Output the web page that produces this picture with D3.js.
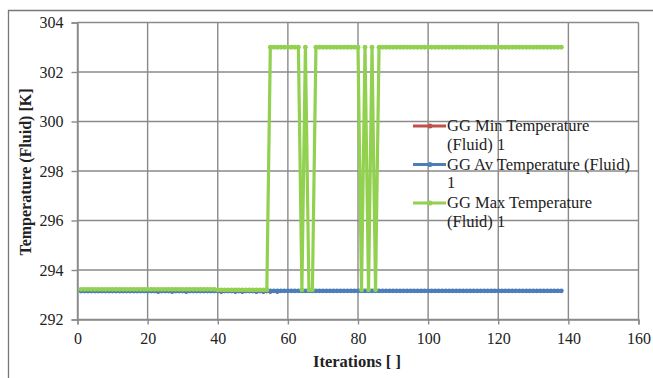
<!DOCTYPE html>
<head>
  <meta charset="utf-8">
  <script src="https://d3js.org/d3.v7.min.js"></script>
  <style>
    body { margin:0; background:#fff; }
    text { font-family: "Liberation Serif", "DejaVu Serif", serif; fill:#222; }
  </style>
</head>
<body>
<script>
  // data
  var iterations = d3.range(1, 139); // iterations 1..138

  var minTemp = [
    293.15,293.15,293.15,293.15,293.15,293.15,293.15,293.15,293.15,293.15,
    293.15,293.15,293.15,293.15,293.15,293.15,293.15,293.15,293.15,293.15,
    293.15,293.15,293.1,293.15,293.15,293.15,293.1,293.15,293.15,293.15,
    293.1,293.15,293.15,293.15,293.15,293.15,293.15,293.15,293.15,293.15,
    293.1,293.15,293.15,293.15,293.1,293.15,293.1,293.15,293.15,293.15,
    293.1,293.15,293.1,293.15,293.1,293.15,293.1,293.15,293.15,293.15,
    293.15,293.15,293.15,293.15,293.15,293.15,293.15,293.15,293.15,293.15,
    293.15,293.15,293.15,293.15,293.15,293.15,293.15,293.15,293.15,293.15,
    293.15,293.15,293.15,293.15,293.15,293.15,293.15,293.15,293.15,293.15,
    293.15,293.15,293.15,293.15,293.15,293.15,293.15,293.15,293.15,293.15,
    293.15,293.15,293.15,293.15,293.15,293.15,293.15,293.15,293.15,293.15,
    293.15,293.15,293.15,293.15,293.15,293.15,293.15,293.15,293.15,293.15,
    293.15,293.15,293.15,293.15,293.15,293.15,293.15,293.15,293.15,293.15,
    293.15,293.15,293.15,293.15,293.15,293.15,293.15,293.15
  ];

  var avTemp = [
    293.15,293.15,293.15,293.15,293.15,293.15,293.15,293.15,293.15,293.15,
    293.15,293.15,293.15,293.15,293.15,293.15,293.15,293.15,293.15,293.15,
    293.15,293.15,293.15,293.15,293.15,293.15,293.15,293.15,293.15,293.15,
    293.15,293.15,293.15,293.15,293.15,293.15,293.15,293.15,293.15,293.15,
    293.15,293.15,293.15,293.15,293.15,293.15,293.15,293.15,293.15,293.15,
    293.15,293.15,293.15,293.15,293.16,293.16,293.16,293.16,293.16,293.16,
    293.16,293.16,293.16,293.16,293.16,293.16,293.16,293.16,293.16,293.16,
    293.16,293.16,293.16,293.16,293.16,293.16,293.16,293.16,293.16,293.16,
    293.16,293.16,293.16,293.16,293.16,293.16,293.16,293.16,293.16,293.16,
    293.16,293.16,293.16,293.16,293.16,293.16,293.16,293.16,293.16,293.16,
    293.16,293.16,293.16,293.16,293.16,293.16,293.16,293.16,293.16,293.16,
    293.16,293.16,293.16,293.16,293.16,293.16,293.16,293.16,293.16,293.16,
    293.16,293.16,293.16,293.16,293.16,293.16,293.16,293.16,293.16,293.16,
    293.16,293.16,293.16,293.16,293.16,293.16,293.16,293.16
  ];

  var maxTemp = [
    293.22,293.22,293.22,293.22,293.22,293.22,293.22,293.22,293.22,293.22,
    293.22,293.22,293.22,293.22,293.22,293.22,293.22,293.22,293.22,293.22,
    293.22,293.22,293.22,293.22,293.22,293.22,293.22,293.22,293.22,293.22,
    293.22,293.22,293.22,293.22,293.22,293.22,293.22,293.22,293.22,293.2,
    293.2,293.2,293.2,293.2,293.2,293.2,293.2,293.2,293.2,293.2,
    293.2,293.2,293.2,293.2,303,303,303,303,303,303,
    303,303,303,293.2,303,293.2,293.2,303,303,303,
    303,303,303,303,303,303,303,303,303,303,
    293.2,303,293.2,303,293.2,303,303,303,303,303,
    303,303,303,303,303,303,303,303,303,303,
    303,303,303,303,303,303,303,303,303,303,
    303,303,303,303,303,303,303,303,303,303,
    303,303,303,303,303,303,303,303,303,303,
    303,303,303,303,303,303,303,303
  ];

  var seriesNames = ["GG Min Temperature (Fluid) 1", "GG Av Temperature (Fluid) 1", "GG Max Temperature (Fluid) 1"];
  var legendLines = [["GG Min Temperature", "(Fluid) 1"], ["GG Av Temperature (Fluid)", "1"], ["GG Max Temperature", "(Fluid) 1"]];
  var seriesColors = ["#c0504d", "#4a7ebb", "#92d050"];
  var xTicks = [0, 20, 40, 60, 80, 100, 120, 140, 160];
  var yTicks = [292, 294, 296, 298, 300, 302, 304];

  var W = 653, H = 378;
  var svg = d3.select("body").append("svg")
      .attr("width", W).attr("height", H);

  // outer chart border
  svg.append("path")
    .attr("d", "M8.5," + H + "V10.5H" + W)
    .attr("fill", "none").attr("stroke", "#777").attr("stroke-width", 1.3);

  var x = d3.scaleLinear().domain([0, 160]).range([77.5, 638.5]);
  var y = d3.scaleLinear().domain([292, 304]).range([319.5, 22.5]);

  // gridlines
  svg.append("g").selectAll("line").data(xTicks).enter().append("line")
    .attr("x1", function(d) { return x(d); }).attr("x2", function(d) { return x(d); })
    .attr("y1", y(292)).attr("y2", y(304))
    .attr("stroke", "#8a8a8a").attr("stroke-width", 1.4);
  svg.append("g").selectAll("line").data(yTicks).enter().append("line")
    .attr("y1", function(d) { return y(d); }).attr("y2", function(d) { return y(d); })
    .attr("x1", x(0)).attr("x2", x(160))
    .attr("stroke", "#8a8a8a").attr("stroke-width", 1.4);

  // axes
  var xAxis = svg.append("g")
    .attr("transform", "translate(0," + y(292) + ")")
    .call(d3.axisBottom(x).tickValues(xTicks).tickSize(5).tickPadding(8).tickFormat(d3.format("d")));
  var yAxis = svg.append("g")
    .attr("transform", "translate(" + x(0) + ",0)")
    .call(d3.axisLeft(y).tickValues(yTicks).tickSize(6).tickPadding(8).tickFormat(d3.format("d")));
  [xAxis, yAxis].forEach(function(a) {
    a.select(".domain").attr("stroke", "#8a8a8a").attr("stroke-width", 1.4);
    a.selectAll(".tick line").attr("stroke", "#8a8a8a").attr("stroke-width", 1.4);
    a.selectAll(".tick text").style("font-family", "'Liberation Serif', serif")
      .style("font-size", "16px").attr("fill", "#222");
  });

  // series
  var allSeries = [minTemp, avTemp, maxTemp];
  var line = d3.line()
    .x(function(d) { return x(d[0]); })
    .y(function(d) { return y(d[1]); });

  allSeries.forEach(function(vals, i) {
    var pts = iterations.map(function(it, j) { return [it, vals[j]]; });
    var g = svg.append("g");
    g.append("path").datum(pts)
      .attr("d", line)
      .attr("fill", "none")
      .attr("stroke", seriesColors[i])
      .attr("stroke-width", i == 0 ? 2.5 : 3.2)
      .attr("stroke-linejoin", "round");
    g.selectAll("circle").data(pts).enter().append("circle")
      .attr("cx", function(d) { return x(d[0]); })
      .attr("cy", function(d) { return y(d[1]); })
      .attr("r", i == 0 ? 1.8 : 2.4)
      .attr("fill", seriesColors[i]);
  });

  // legend
  var legend = svg.append("g");
  legendLines.forEach(function(lines, i) {
    var ly = 126 + i * 38.5;
    legend.append("line")
      .attr("x1", 413).attr("x2", 446).attr("y1", ly).attr("y2", ly)
      .attr("stroke", seriesColors[i]).attr("stroke-width", 3);
    legend.append("circle").attr("cx", 430).attr("cy", ly).attr("r", 2.5)
      .attr("fill", seriesColors[i]);
    lines.forEach(function(t, k) {
      legend.append("text")
        .attr("x", 447).attr("y", ly + 5 + k * 18.5)
        .style("font-size", "16.5px")
        .text(t);
    });
  });

  // axis titles
  svg.append("text")
    .attr("x", 357).attr("y", 367)
    .attr("text-anchor", "middle")
    .style("font-size", "16.5px").style("font-weight", "bold")
    .text("Iterations [ ]");

  svg.append("text")
    .attr("transform", "translate(31,172) rotate(-90)")
    .attr("text-anchor", "middle")
    .style("font-size", "16px").style("font-weight", "bold")
    .text("Temperature (Fluid) [K]");
</script>
</body>
